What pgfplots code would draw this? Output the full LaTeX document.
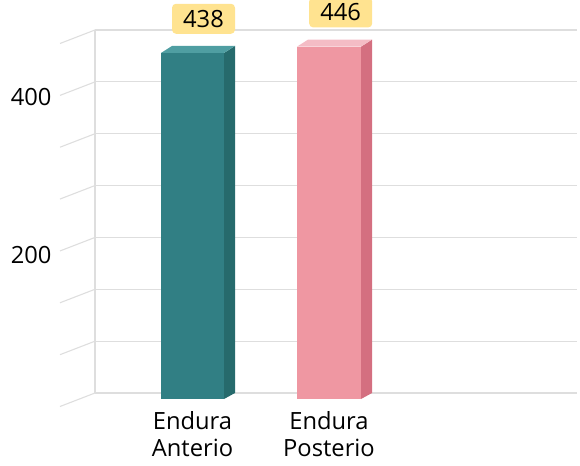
\documentclass[border=0pt]{standalone}
\usepackage{fontspec}
\setmainfont{Open Sans}
\usepackage{pgfplots}
\pgfplotsset{compat=1.18}
\pgfkeys{/pgf/number format/assume math mode=true}
\definecolor{tealF}{HTML}{317F84}
\definecolor{tealS}{HTML}{266A6C}
\definecolor{tealT}{HTML}{4F9EA2}
\definecolor{pinkF}{HTML}{EF97A2}
\definecolor{pinkS}{HTML}{D46F80}
\definecolor{pinkT}{HTML}{F4BCC5}
\definecolor{boxY}{HTML}{FFE390}
\definecolor{gridG}{HTML}{DEDEDE}
\newcommand{\bigfont}{\fontsize{23.8}{27}\selectfont}
\begin{document}
\begin{tikzpicture}
\begin{axis}[
  scale only axis,
  width=525bp, height=406bp,
  xmin=55, xmax=580,
  ymin=-8.86, ymax=505.06,
  clip=false,
  axis line style={draw=none},
  major tick length=0pt,
  xtick={192.5,329},
  xticklabels={{Endura\\Anterio},{Endura\\Posterio}},
  xticklabel style={align=center, font=\bigfont, text=black, yshift=-2bp},
  ytick={182.3,382.3},
  yticklabels={200,400},
  yticklabel style={font=\bigfont, text=black},
  nodes near coords style={font=\bigfont, text=black},
]
% back wall gridlines
\addplot[gridG, line width=1.1bp] coordinates {(95,7.6) (577,7.6)};
\addplot[gridG, line width=1.1bp] coordinates {(95,73.2) (577,73.2)};
\addplot[gridG, line width=1.1bp] coordinates {(95,138.9) (577,138.9)};
\addplot[gridG, line width=1.1bp] coordinates {(95,204.5) (577,204.5)};
\addplot[gridG, line width=1.1bp] coordinates {(95,270.2) (577,270.2)};
\addplot[gridG, line width=1.1bp] coordinates {(95,335.8) (577,335.8)};
\addplot[gridG, line width=1.1bp] coordinates {(95,401.4) (577,401.4)};
\addplot[gridG, line width=1.1bp] coordinates {(95,467.1) (577,467.1)};
% left wall
\addplot[gridG, line width=1.1bp] coordinates {(95,7.6) (95,467.1)};
\addplot[gridG, line width=1.1bp] coordinates {(95,7.6) (60,-9.5)};
\addplot[gridG, line width=1.1bp] coordinates {(95,73.2) (60,56.1)};
\addplot[gridG, line width=1.1bp] coordinates {(95,138.9) (60,121.8)};
\addplot[gridG, line width=1.1bp] coordinates {(95,204.5) (60,187.4)};
\addplot[gridG, line width=1.1bp] coordinates {(95,270.2) (60,253.1)};
\addplot[gridG, line width=1.1bp] coordinates {(95,335.8) (60,318.7)};
\addplot[gridG, line width=1.1bp] coordinates {(95,401.4) (60,384.3)};
\addplot[gridG, line width=1.1bp] coordinates {(95,467.1) (60,450.0)};
% bar 1 side and top
\addplot[fill=tealS, draw=none] coordinates {(224,0) (235,7.6) (235,446.9) (224,438)} --cycle;
\addplot[fill=tealT, draw=none] coordinates {(161,438) (172,446.9) (235,446.9) (224,438)} --cycle;
% bar 2 side and top
\addplot[fill=pinkS, draw=none] coordinates {(361,0) (372,7.6) (372,454.9) (361,446)} --cycle;
\addplot[fill=pinkT, draw=none] coordinates {(297,446) (308,454.9) (372,454.9) (361,446)} --cycle;
% front faces
\addplot[ybar, bar width=63, /pgf/bar shift=0pt, fill=tealF, draw=none,
  nodes near coords,
  every node near coord/.append style={fill=boxY, rounded corners=4bp, minimum width=63bp, minimum height=30bp, inner sep=0pt, anchor=south, xshift=11bp, yshift=19bp}]
  coordinates {(192.5,438)};
\addplot[ybar, bar width=64, /pgf/bar shift=0pt, fill=pinkF, draw=none,
  nodes near coords,
  every node near coord/.append style={fill=boxY, rounded corners=4bp, minimum width=63bp, minimum height=30bp, inner sep=0pt, anchor=south, xshift=11.7bp, yshift=19bp}]
  coordinates {(329,446)};
\coordinate (BL) at (axis cs:0,-84.81);
\coordinate (TR) at (axis cs:580,505.06);
\end{axis}
\pgfresetboundingbox
\path[use as bounding box] (BL) rectangle (TR);
\end{tikzpicture}
\end{document}
